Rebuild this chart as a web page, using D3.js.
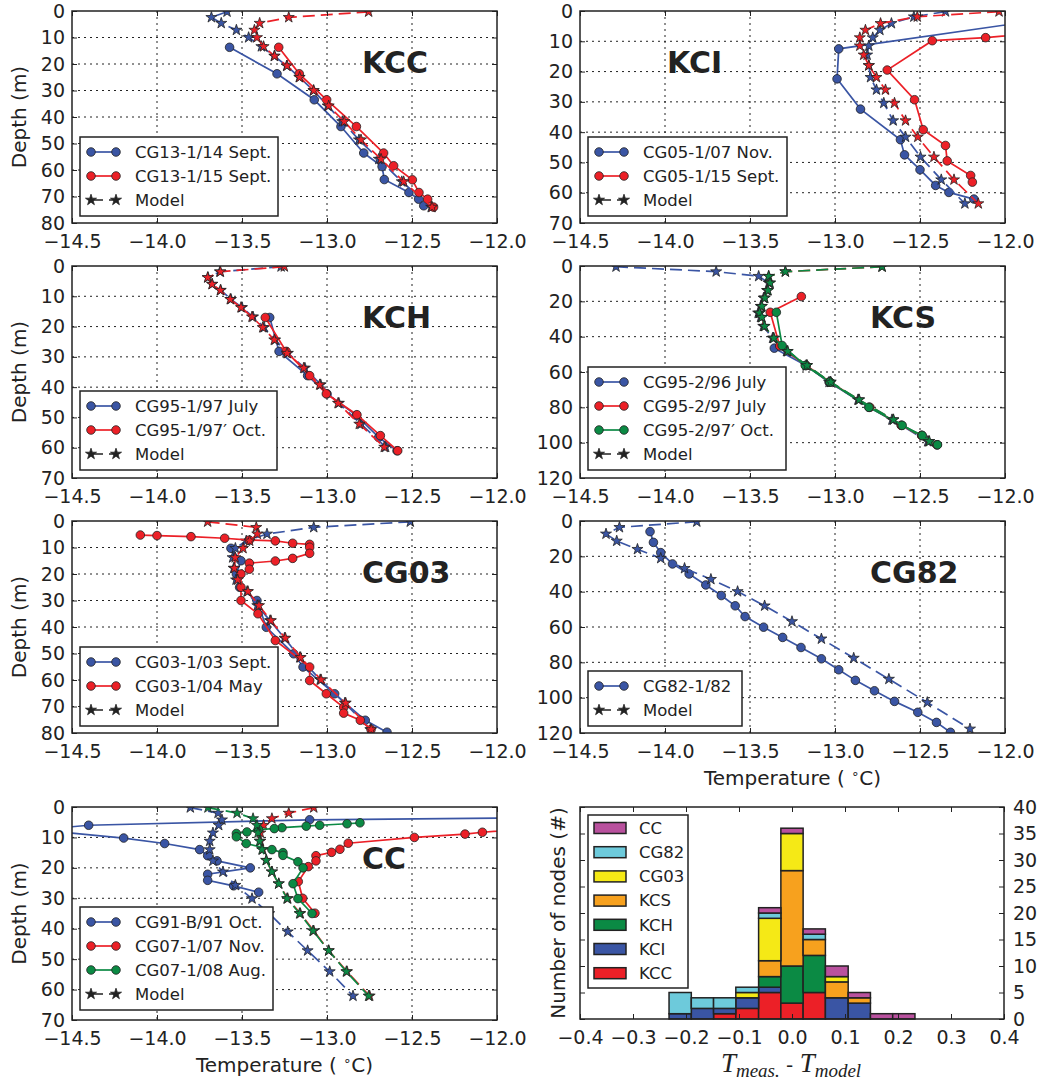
<!DOCTYPE html>
<html>
<head>
<meta charset="utf-8">
<script src="https://cdn.jsdelivr.net/npm/d3@7"></script>
<style>
body { margin: 0; background: #fff; }
svg text { font-family: "DejaVu Sans", sans-serif; fill: #222; }
.grid { stroke: #222; stroke-width: 1; stroke-dasharray: 2,4; }
</style>
</head>
<body>
<div id="chart"></div>
<script>

// colours
var blue = "#3a55a4", red = "#ec2027", green = "#0b8a44";

// tick values
var tempTicks = [-14.5, -14.0, -13.5, -13.0, -12.5, -12.0];
var depth70 = [0, 10, 20, 30, 40, 50, 60, 70];
var depth80 = [0, 10, 20, 30, 40, 50, 60, 70, 80];
var depth120 = [0, 20, 40, 60, 80, 100, 120];
var histXTicks = [-0.4, -0.3, -0.2, -0.1, 0.0, 0.1, 0.2, 0.3, 0.4];
var histYTicks = [0, 5, 10, 15, 20, 25, 30, 35, 40];

// ---- KCC : [temperature, depth]
var kccObs14 = [[-13.573,13.7],[-13.294,23.7],[-13.075,33.5],[-12.918,43.6],[-12.784,53.6],[-12.676,58.7],[-12.663,63.6],[-12.518,68.5],[-12.461,71.0],[-12.431,73.5]];
var kccObs15 = [[-13.284,13.7],[-13.163,23.7],[-13.002,33.5],[-12.827,43.6],[-12.667,53.6],[-12.608,58.4],[-12.498,63.7],[-12.459,68.5],[-12.408,71.0],[-12.373,74.0]];
var kccMod14 = [[-13.588,0.3],[-13.68,2.4],[-13.622,4.6],[-13.533,7.2],[-13.461,10],[-13.386,13.4],[-13.31,17],[-13.237,20.7],[-13.163,25],[-13.08,30],[-12.996,35.8],[-12.91,41.7],[-12.812,48.6],[-12.695,55.9],[-12.56,64.4],[-12.387,74]];
var kccMod15 = [[-12.755,0.3],[-13.225,2.4],[-13.396,4.6],[-13.427,7.2],[-13.412,10],[-13.373,13.4],[-13.308,17],[-13.235,20.7],[-13.161,25],[-13.078,30],[-12.99,35.8],[-12.898,41.7],[-12.8,48.6],[-12.682,55.9],[-12.549,64.4],[-12.382,74]];

// ---- KCI
var kciObs07 = [[-11.5,0.6],[-12.978,12.5],[-12.988,22.4],[-12.85,32.4],[-12.615,42.5],[-12.591,47.5],[-12.5,52.4],[-12.408,57.6],[-12.33,59.9],[-12.183,62.1]];
var kciObs15 = [[-11.5,5.8],[-12.114,8.8],[-12.428,9.8],[-12.693,19.5],[-12.532,29.3],[-12.481,39.2],[-12.35,44.4],[-12.34,49.5],[-12.202,54.3],[-12.192,56.5]];
var kciMod07 = [[-12.35,0.2],[-12.536,1.9],[-12.668,4.1],[-12.736,6.3],[-12.778,8.8],[-12.801,11.5],[-12.811,14.5],[-12.801,18],[-12.791,21.9],[-12.756,26],[-12.713,30.4],[-12.658,36.2],[-12.585,41.6],[-12.497,48.2],[-12.375,55.7],[-12.236,63.6]];
var kciMod15 = [[-12.035,0.2],[-12.516,1.9],[-12.732,4.1],[-12.821,6.3],[-12.854,8.8],[-12.854,11.5],[-12.831,14.5],[-12.801,18],[-12.756,21.9],[-12.703,26],[-12.65,30.4],[-12.585,36.2],[-12.513,41.6],[-12.418,48.2],[-12.3,55.7],[-12.157,63.6]];

// ---- KCH
var kchObsJul = [[-13.337,17],[-13.282,28.2],[-13.114,36.2],[-13.0,42.2],[-12.827,49.3],[-12.696,56.6],[-12.588,61]];
var kchObsOct = [[-13.363,17],[-13.24,28.2],[-13.102,36.2],[-13.004,42.2],[-12.824,49.1],[-12.686,56],[-12.584,61]];
var kchModJul = [[-13.27,0.2],[-13.63,1.9],[-13.70,3.8],[-13.675,6],[-13.625,8],[-13.565,11],[-13.50,13.7],[-13.435,16.8],[-13.37,20.3],[-13.305,24.4],[-13.23,28.8],[-13.13,33.7],[-13.037,39.2],[-12.93,45.3],[-12.80,52.2],[-12.655,59.8]];
var kchModOct = [[-13.251,0.2],[-13.627,1.9],[-13.702,3.8],[-13.676,6],[-13.627,8],[-13.569,11],[-13.506,13.7],[-13.441,16.8],[-13.378,20.3],[-13.31,24.4],[-13.235,28.8],[-13.137,33.7],[-13.043,39.2],[-12.935,45.3],[-12.81,52.2],[-12.663,59.8]];

// ---- KCS
var kcsObs96 = [[-13.357,46.5],[-13.17,56.3],[-13.035,65.7],[-12.80,80],[-12.61,90.2],[-12.49,95.9],[-12.40,101.2]];
var kcsObs97 = [[-13.198,17.3],[-13.381,26.2],[-13.325,45.3],[-13.17,56.3],[-13.03,65.7],[-12.795,80],[-12.61,90.2],[-12.49,95.9],[-12.40,101.2]];
var kcsObs97o = [[-13.345,26.2],[-13.311,45],[-13.175,56.3],[-13.03,65.7],[-12.80,80],[-12.605,90.2],[-12.487,95.9],[-12.397,101.2]];
var kcsMod96 = [[-14.288,0.4],[-13.699,3.2],[-13.449,5.8],[-13.39,9.6],[-13.40,13.8],[-13.42,18.1],[-13.437,22.8],[-13.452,26.6],[-13.438,29],[-13.422,34.1],[-13.367,40.8],[-13.285,48.3],[-13.17,56.3],[-13.035,65.7],[-12.865,75.7],[-12.665,87],[-12.455,99.3]];
var kcsMod97 = [[-12.723,0.4],[-13.292,3.2],[-13.39,5.8],[-13.384,9.6],[-13.396,13.8],[-13.415,18.1],[-13.432,22.8],[-13.446,26.6],[-13.432,29],[-13.416,34.1],[-13.362,40.8],[-13.28,48.3],[-13.166,56.3],[-13.027,65.7],[-12.86,75.7],[-12.658,87],[-12.448,99.3]];
var kcsMod97o = [[-12.723,0.4],[-13.292,3.2],[-13.39,5.8],[-13.382,9.6],[-13.394,13.8],[-13.413,18.1],[-13.43,22.8],[-13.444,26.6],[-13.43,29],[-13.414,34.1],[-13.36,40.8],[-13.278,48.3],[-13.164,56.3],[-13.025,65.7],[-12.858,75.7],[-12.656,87],[-12.445,99.3]];

// ---- CG03
var cg03ObsSep = [[-13.565,10.3],[-13.506,15],[-13.533,20],[-13.514,25],[-13.412,30],[-13.357,40.1],[-13.196,50.1],[-13.141,55.1],[-12.955,65.2],[-12.775,75.2],[-12.647,79.7]];
var cg03ObsMay = [[-14.098,5.3],[-14.0,5.5],[-13.8,5.9],[-13.602,6.5],[-13.457,7.2],[-13.304,7.5],[-13.202,8.4],[-13.102,8.8],[-13.102,9.9],[-13.102,12.2],[-13.202,14.1],[-13.304,15.1],[-13.457,15.9],[-13.457,18.2],[-13.506,20],[-13.506,25],[-13.506,30],[-13.406,35],[-13.304,45.1],[-13.102,55.1],[-13.102,60.2],[-13.004,65.2],[-12.902,70.3],[-12.902,72.5],[-12.804,75.2],[-12.741,78.7]];
var cg03ModSep = [[-12.51,0.3],[-13.078,2.4],[-13.353,4.9],[-13.475,7.5],[-13.539,10.3],[-13.555,13.8],[-13.549,17.8],[-13.535,22.2],[-13.47,26.6],[-13.41,31.9],[-13.335,37.6],[-13.25,44.2],[-13.16,51.5],[-13.04,59.9],[-12.895,68.7],[-12.745,78.7]];
var cg03ModMay = [[-13.702,0.3],[-13.416,2.4],[-13.41,4.9],[-13.455,7.5],[-13.494,10.3],[-13.54,13.8],[-13.545,17.8],[-13.525,22.2],[-13.465,26.6],[-13.40,31.9],[-13.33,37.6],[-13.245,44.2],[-13.155,51.5],[-13.035,59.9],[-12.89,68.7],[-12.74,78.7]];

// ---- CG82
var cg82Obs = [[-14.088,6],[-14.068,12.1],[-14.025,17.9],[-13.956,24.3],[-13.858,30],[-13.76,36.2],[-13.669,42.2],[-13.587,48],[-13.529,54.1],[-13.42,60.1],[-13.308,65.9],[-13.2,71.6],[-13.08,78],[-12.978,84.2],[-12.88,90.2],[-12.768,96.1],[-12.65,102.1],[-12.513,108.3],[-12.403,114],[-12.321,119.6]];
var cg82Mod = [[-13.813,0.4],[-14.268,3.6],[-14.347,7.3],[-14.284,11.3],[-14.162,16],[-14.025,21.1],[-13.885,26.8],[-13.73,33],[-13.573,39.9],[-13.414,48],[-13.253,56.9],[-13.08,66.7],[-12.89,77.6],[-12.683,89.5],[-12.457,102.7],[-12.206,117.7]];

// ---- CC
var ccObs91 = [[-11.5,3.4],[-13.102,4.2],[-14.402,6.0],[-14.7,7.5],[-14.196,10.2],[-13.955,12],[-13.749,14],[-13.702,16],[-13.647,17.7],[-13.451,20],[-13.702,22.1],[-13.702,24.1],[-13.549,25.9],[-13.402,28]];
var ccObs07 = [[-11.8,7.0],[-12.086,8.3],[-12.188,8.9],[-12.486,10],[-12.875,11.9],[-12.924,13.9],[-12.973,14.9],[-13.065,16],[-13.065,17.7],[-13.11,19.6],[-13.169,24.5],[-13.143,30],[-13.071,34.9]];
var ccObs08 = [[-12.806,5.2],[-12.882,5.5],[-13.043,6],[-13.122,6.3],[-13.265,6.8],[-13.31,7.1],[-13.402,7.4],[-13.471,8.2],[-13.533,8.7],[-13.533,9.8],[-13.475,12],[-13.324,14],[-13.259,15],[-13.259,15.9],[-13.171,18],[-13.141,20],[-13.2,25.2],[-13.171,30.1],[-13.088,35]];
var ccMod91 = [[-13.804,0.2],[-13.641,2],[-13.618,4.2],[-13.637,6],[-13.671,8.5],[-13.69,11.2],[-13.69,14],[-13.671,17.7],[-13.612,21.3],[-13.539,25.7],[-13.441,30.1],[-13.34,35],[-13.231,41],[-13.114,47.2],[-12.984,54.1],[-12.847,62.1]];
var ccMod07 = [[-13.078,0.2],[-13.225,2],[-13.324,3.8],[-13.373,6],[-13.392,8.5],[-13.392,11.2],[-13.378,14],[-13.357,17.5],[-13.324,21.3],[-13.284,25.2],[-13.231,30.1],[-13.157,35],[-13.078,40.7],[-12.99,47.2],[-12.882,54.1],[-12.749,62.1]];
var ccMod08 = [[-13.70,0.2],[-13.529,2],[-13.435,3.8],[-13.412,6],[-13.406,8.5],[-13.396,11.2],[-13.382,14],[-13.357,17.5],[-13.324,21.3],[-13.284,25.2],[-13.235,30.1],[-13.161,35],[-13.082,40.7],[-12.99,47.2],[-12.886,54.1],[-12.755,62.1]];

// ---- histogram of T_meas - T_model
var binEdges = [-0.232, -0.190, -0.148, -0.106, -0.063, -0.021, 0.021, 0.063, 0.106, 0.148, 0.190, 0.232];
var histKeys = ["KCC", "KCI", "KCH", "KCS", "CG03", "CG82", "CC"];
var histColors = ["#ec2027", "#3a55a4", "#0b8a44", "#f7a11e", "#f5e916", "#6dcadb", "#b9519e"];
var countKCC  = [0, 0, 1, 2, 5, 3, 5, 0, 0, 0, 0];
var countKCI  = [1, 2, 1, 2, 1, 0, 0, 4, 3, 0, 0];
var countKCH  = [0, 0, 0, 0, 2, 7, 7, 0, 0, 0, 0];
var countKCS  = [0, 0, 0, 0, 3, 18, 3, 3, 1, 0, 0];
var countCG03 = [0, 0, 0, 1, 8, 7, 0, 1, 0, 0, 0];
var countCG82 = [4, 2, 2, 1, 1, 0, 1, 0, 0, 0, 0];
var countCC   = [0, 0, 0, 0, 1, 1, 1, 2, 1, 1, 1];


var svg = d3.select("#chart").append("svg")
    .attr("width", 1038)
    .attr("height", 1084);

var W = 425;
var starSym = d3.symbol().type(d3.symbolStar).size(38);
var dash = "12,6";

var panels = [
    {title: "KCC", x0: 72, y0: 11, h: 212, ymax: 80, yticks: depth80, tx: 362, ylabel: true,
     legend: {x: 80, y: 137, w: 198},
     series: [{name: "CG13-1/14 Sept.", color: blue, obs: kccObs14, model: kccMod14},
              {name: "CG13-1/15 Sept.", color: red, obs: kccObs15, model: kccMod15}]},
    {title: "KCI", x0: 580, y0: 11, h: 212, ymax: 70, yticks: depth70, tx: 667,
     legend: {x: 588, y: 137, w: 199},
     series: [{name: "CG05-1/07 Nov.", color: blue, obs: kciObs07, model: kciMod07},
              {name: "CG05-1/15 Sept.", color: red, obs: kciObs15, model: kciMod15}]},
    {title: "KCH", x0: 72, y0: 266, h: 212, ymax: 70, yticks: depth70, tx: 362, ylabel: true,
     legend: {x: 80, y: 391, w: 197},
     series: [{name: "CG95-1/97 July", color: blue, obs: kchObsJul, model: kchModJul},
              {name: "CG95-1/97\u2032 Oct.", color: red, obs: kchObsOct, model: kchModOct}]},
    {title: "KCS", x0: 580, y0: 266, h: 212, ymax: 120, yticks: depth120, tx: 870,
     legend: {x: 588, y: 367, w: 198},
     series: [{name: "CG95-2/96 July", color: blue, obs: kcsObs96, model: kcsMod96},
              {name: "CG95-2/97 July", color: red, obs: kcsObs97, model: kcsMod97},
              {name: "CG95-2/97\u2032 Oct.", color: green, obs: kcsObs97o, model: kcsMod97o}]},
    {title: "CG03", x0: 72, y0: 521, h: 212, ymax: 80, yticks: depth80, tx: 362, ylabel: true,
     legend: {x: 80, y: 647, w: 198},
     series: [{name: "CG03-1/03 Sept.", color: blue, obs: cg03ObsSep, model: cg03ModSep},
              {name: "CG03-1/04 May", color: red, obs: cg03ObsMay, model: cg03ModMay}]},
    {title: "CG82", x0: 580, y0: 521, h: 212, ymax: 120, yticks: depth120, tx: 870, xlabel: true,
     legend: {x: 588, y: 671, w: 154},
     series: [{name: "CG82-1/82", color: blue, obs: cg82Obs, model: cg82Mod}]},
    {title: "CC", x0: 72, y0: 807, h: 213, ymax: 70, yticks: depth70, tx: 362, ylabel: true, xlabel: true,
     legend: {x: 80, y: 907, w: 193},
     series: [{name: "CG91-B/91 Oct.", color: blue, obs: ccObs91, model: ccMod91},
              {name: "CG07-1/07 Nov.", color: red, obs: ccObs07, model: ccMod07},
              {name: "CG07-1/08 Aug.", color: green, obs: ccObs08, model: ccMod08}]}
];

function styleAxis(sel, size) {
    sel.select(".domain").remove();
    sel.selectAll(".tick line").attr("stroke", "#222").attr("stroke-width", 1);
    sel.selectAll(".tick text").attr("font-size", size).attr("font-family", null).attr("fill", "#222");
}

function drawProfile(p, i) {
    var H = p.h;
    var g = svg.append("g")
        .attr("transform", "translate(" + p.x0 + "," + p.y0 + ")");

    var x = d3.scaleLinear().domain([-14.5, -12.0]).range([0, W]);
    var y = d3.scaleLinear().domain([0, p.ymax]).range([0, H]);

    var clipId = "clip" + i;
    g.append("clipPath").attr("id", clipId)
        .append("rect").attr("width", W).attr("height", H);

    // dotted grid
    g.selectAll(".gx").data(tempTicks.slice(1, -1)).enter().append("line")
        .attr("class", "grid")
        .attr("x1", d => x(d)).attr("x2", d => x(d))
        .attr("y1", 0).attr("y2", H);
    g.selectAll(".gy").data(p.yticks.slice(1, -1)).enter().append("line")
        .attr("class", "grid")
        .attr("y1", d => y(d)).attr("y2", d => y(d))
        .attr("x1", 0).attr("x2", W);

    var plot = g.append("g").attr("clip-path", "url(#" + clipId + ")");
    var line = d3.line().x(d => x(d[0])).y(d => y(d[1]));

    p.series.forEach(function(s) {
        plot.append("path")
            .attr("d", line(s.obs))
            .attr("fill", "none")
            .attr("stroke", s.color)
            .attr("stroke-width", 1.7);
        plot.append("g").selectAll("circle").data(s.obs).enter().append("circle")
            .attr("cx", d => x(d[0])).attr("cy", d => y(d[1]))
            .attr("r", 4.3)
            .attr("fill", s.color)
            .attr("stroke", "#222").attr("stroke-width", 0.8);
        plot.append("path")
            .attr("d", line(s.model))
            .attr("fill", "none")
            .attr("stroke", s.color)
            .attr("stroke-width", 1.7)
            .attr("stroke-dasharray", dash);
        plot.append("g").selectAll("path").data(s.model).enter().append("path")
            .attr("d", starSym)
            .attr("transform", d => "translate(" + x(d[0]) + "," + y(d[1]) + ")")
            .attr("fill", s.color)
            .attr("stroke", "#222").attr("stroke-width", 0.8);
    });

    // axes, ticks inward on all sides
    g.append("g").attr("transform", "translate(0," + H + ")")
        .call(d3.axisBottom(x).tickValues(tempTicks).tickFormat(d3.format(".1f"))
            .tickSizeInner(-5).tickSizeOuter(0).tickPadding(12))
        .call(styleAxis, "19px");
    g.append("g")
        .call(d3.axisTop(x).tickValues(tempTicks).tickFormat("").tickSizeInner(-5).tickSizeOuter(0))
        .call(styleAxis, "19px");
    g.append("g")
        .call(d3.axisLeft(y).tickValues(p.yticks).tickFormat(d3.format("d"))
            .tickSizeInner(-5).tickSizeOuter(0).tickPadding(7))
        .call(styleAxis, "19px");
    g.append("g").attr("transform", "translate(" + W + ",0)")
        .call(d3.axisRight(y).tickValues(p.yticks).tickFormat("").tickSizeInner(-5).tickSizeOuter(0))
        .call(styleAxis, "19px");

    g.append("rect")
        .attr("width", W).attr("height", H)
        .attr("fill", "none").attr("stroke", "#222").attr("stroke-width", 1.5);

    // panel title
    svg.append("text")
        .attr("x", p.tx).attr("y", p.y0 + 62)
        .attr("font-size", "30px").attr("font-weight", "bold")
        .text(p.title);

    if (p.ylabel) {
        svg.append("text")
            .attr("transform", "translate(26," + (p.y0 + H / 2) + ") rotate(-90)")
            .attr("text-anchor", "middle")
            .attr("font-size", "20px")
            .text("Depth (m)");
    }
    if (p.xlabel) {
        var t = svg.append("text")
            .attr("x", p.x0 + W / 2).attr("y", p.y0 + H + 52)
            .attr("text-anchor", "middle")
            .attr("font-size", "20px");
        t.append("tspan").text("Temperature ( ");
        t.append("tspan").attr("dy", -7).attr("font-size", "13px").text("\u2218");
        t.append("tspan").attr("dy", 7).text("C)");
    }

    drawLegend(p.legend, p.series);
}

function drawLegend(lg, series) {
    var rows = series.map(s => ({name: s.name, color: s.color, model: false}));
    rows.push({name: "Model", color: "#222", model: true});
    var h = rows.length * 24 + 7;
    var g = svg.append("g").attr("transform", "translate(" + lg.x + "," + lg.y + ")");
    g.append("rect")
        .attr("width", lg.w).attr("height", h)
        .attr("fill", "#fff").attr("stroke", "#222").attr("stroke-width", 1.5);
    rows.forEach(function(r, i) {
        var yy = 15 + i * 24;
        g.append("line")
            .attr("x1", 11).attr("x2", 36).attr("y1", yy).attr("y2", yy)
            .attr("stroke", r.color).attr("stroke-width", 1.7)
            .attr("stroke-dasharray", r.model ? dash : null);
        [11, 36].forEach(function(xx) {
            if (r.model) {
                g.append("path").attr("d", starSym)
                    .attr("transform", "translate(" + xx + "," + yy + ")")
                    .attr("fill", "#222").attr("stroke", "#222").attr("stroke-width", 0.8);
            } else {
                g.append("circle").attr("cx", xx).attr("cy", yy).attr("r", 4.3)
                    .attr("fill", r.color).attr("stroke", "#222").attr("stroke-width", 0.8);
            }
        });
        g.append("text")
            .attr("x", 55).attr("y", yy).attr("dy", "0.35em")
            .attr("font-size", "16.5px")
            .text(r.name);
    });
}

panels.forEach(drawProfile);

// ---- histogram panel
(function() {
    var H = 212, HW = 424;
    var g = svg.append("g").attr("transform", "translate(580,807)");
    var x = d3.scaleLinear().domain([-0.4, 0.4]).range([0, HW]);
    var y = d3.scaleLinear().domain([0, 40]).range([H, 0]);

    var counts = [countKCC, countKCI, countKCH, countKCS, countCG03, countCG82, countCC];
    var table = binEdges.slice(0, -1).map(function(e, i) {
        var row = {x0: e, x1: binEdges[i + 1]};
        histKeys.forEach((k, j) => { row[k] = counts[j][i]; });
        return row;
    });
    var stacked = d3.stack().keys(histKeys)(table);

    stacked.forEach(function(layer, j) {
        g.append("g").selectAll("rect")
            .data(layer.filter(d => d[1] - d[0] > 0))
            .enter().append("rect")
            .attr("x", d => x(d.data.x0))
            .attr("width", d => x(d.data.x1) - x(d.data.x0))
            .attr("y", d => y(d[1]))
            .attr("height", d => y(d[0]) - y(d[1]))
            .attr("fill", histColors[j])
            .attr("stroke", "#222").attr("stroke-width", 1.5);
    });

    g.append("g").attr("transform", "translate(0," + H + ")")
        .call(d3.axisBottom(x).tickValues(histXTicks).tickFormat(d3.format(".1f"))
            .tickSizeInner(-5).tickSizeOuter(0).tickPadding(12))
        .call(styleAxis, "19px");
    g.append("g")
        .call(d3.axisTop(x).tickValues(histXTicks).tickFormat("").tickSizeInner(-5).tickSizeOuter(0))
        .call(styleAxis, "19px");
    g.append("g")
        .call(d3.axisLeft(y).tickValues(histYTicks).tickFormat("").tickSizeInner(-5).tickSizeOuter(0))
        .call(styleAxis, "19px");
    g.append("g").attr("transform", "translate(" + HW + ",0)")
        .call(d3.axisRight(y).tickValues(histYTicks).tickFormat(d3.format("d"))
            .tickSizeInner(-5).tickSizeOuter(0).tickPadding(9))
        .call(styleAxis, "19px");

    g.append("rect")
        .attr("width", HW).attr("height", H)
        .attr("fill", "none").attr("stroke", "#222").attr("stroke-width", 1.5);

    // legend, top entry is the last stacked layer
    var lg = svg.append("g").attr("transform", "translate(588,815)");
    lg.append("rect").attr("width", 100).attr("height", 173)
        .attr("fill", "#fff").attr("stroke", "#222").attr("stroke-width", 1.5);
    histKeys.slice().reverse().forEach(function(k, i) {
        var yy = 13 + i * 24.2;
        var c = histColors[histKeys.indexOf(k)];
        lg.append("rect").attr("x", 6).attr("y", yy - 5.5).attr("width", 32).attr("height", 11)
            .attr("fill", c).attr("stroke", "#222").attr("stroke-width", 1.5);
        lg.append("text").attr("x", 51).attr("y", yy).attr("dy", "0.35em")
            .attr("font-size", "16.5px").text(k);
    });

    svg.append("text")
        .attr("transform", "translate(565,913) rotate(-90)")
        .attr("text-anchor", "middle")
        .attr("font-size", "20px")
        .text("Number of nodes (#)");

    var xl = svg.append("text")
        .attr("x", 791).attr("y", 1072)
        .attr("text-anchor", "middle")
        .style("font-family", "'Liberation Serif', serif")
        .attr("font-size", "27px");
    xl.append("tspan").attr("font-style", "italic").text("T");
    xl.append("tspan").attr("font-style", "italic").attr("font-size", "19px").attr("dy", 5).text("meas.");
    xl.append("tspan").attr("dy", -5).style("font-family", "'DejaVu Sans', sans-serif").attr("font-size", "20px").text(" - ");
    xl.append("tspan").attr("font-style", "italic").text("T");
    xl.append("tspan").attr("font-style", "italic").attr("font-size", "19px").attr("dy", 5).text("model");
})();

</script>
</body>
</html>
